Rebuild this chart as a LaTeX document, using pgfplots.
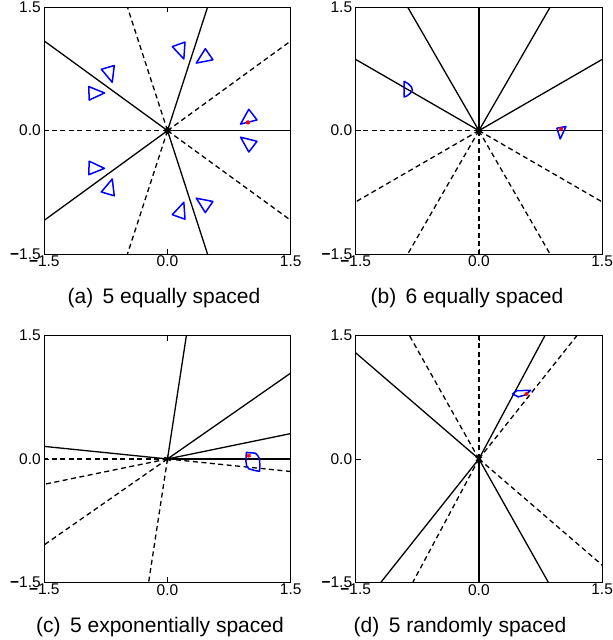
\documentclass[border=0pt]{standalone}
\usepackage{fontspec}
\setmainfont{Liberation Sans}
\usepackage{pgfplots}
\pgfplotsset{compat=1.18}
\newcommand{\mn}{{\bfseries −}}
\pgfplotsset{
  panel/.style={
    anchor=south west, scale only axis, width=246.4pt, height=246.7pt,
    xmin=-1.5, xmax=1.5, ymin=-1.5, ymax=1.5,
    xtick={-1.5,0,1.5}, ytick={-1.5,0,1.5},
    xticklabels={\mn1.5,0.0,1.5}, yticklabels={\mn1.5,0.0,1.5},
    tick align=inside, major tick length=5pt,
    every tick/.style={black, line width=0.8pt},
    axis line style={line width=0.9pt},
    tick label style={font=\fontsize{15.5}{17}\selectfont},
    xticklabel style={yshift=1.5pt},
    clip=true,
  },
  ray/.style={black, line width=1.3pt, no markers},
  dray/.style={black, line width=1.3pt, no markers, dash pattern=on 5pt off 3.5pt},
  shp/.style={blue, line width=1.5pt, line join=round, line cap=round, no markers},
  org/.style={only marks, mark=asterisk, mark size=3.5pt, black, mark options={line width=1.3pt}},
  tgt/.style={only marks, mark=asterisk, mark size=2.2pt, red, mark options={line width=1.1pt}},
}
\begin{document}
\begin{tikzpicture}
\useasboundingbox (0pt,0pt) rectangle (613pt,640pt);
% (a)
\begin{axis}[panel, at={(44.3pt,386pt)}]
\addplot[ray] coordinates {(0,0) (2.5,0)};
\addplot[ray] coordinates {(0,0) (0.7725,2.3776)};
\addplot[ray] coordinates {(0,0) (-2.0225,1.4695)};
\addplot[ray] coordinates {(0,0) (-2.0225,-1.4695)};
\addplot[ray] coordinates {(0,0) (0.7725,-2.3776)};
\addplot[dray] coordinates {(0,0) (2.0225,1.4695)};
\addplot[dray] coordinates {(0,0) (-0.7725,2.3776)};
\addplot[dray] coordinates {(0,0) (-2.5,0)};
\addplot[dray] coordinates {(0,0) (-0.7725,-2.3776)};
\addplot[dray] coordinates {(0,0) (2.0225,-1.4695)};
% triangles
\addplot[shp] coordinates {(0.99,0.26) (0.89,0.08) (1.09,0.13) (0.99,0.26)};
\addplot[shp] coordinates {(0.99,-0.26) (0.89,-0.08) (1.09,-0.13) (0.99,-0.26)};
\addplot[shp] coordinates {(0.0586,1.0219) (0.1989,0.8712) (0.2132,1.0769) (0.0586,1.0219)};
\addplot[shp] coordinates {(0.5532,0.8613) (0.3511,0.8218) (0.4604,0.9965) (0.5532,0.8613)};
\addplot[shp] coordinates {(-0.9537,0.3716) (-0.7670,0.4584) (-0.9582,0.5355) (-0.9537,0.3716)};
\addplot[shp] coordinates {(-0.6481,0.7922) (-0.6730,0.5878) (-0.8054,0.7459) (-0.6481,0.7922)};
\addplot[shp] coordinates {(-0.6481,-0.7922) (-0.6730,-0.5878) (-0.8054,-0.7459) (-0.6481,-0.7922)};
\addplot[shp] coordinates {(-0.9537,-0.3716) (-0.7670,-0.4584) (-0.9582,-0.5355) (-0.9537,-0.3716)};
\addplot[shp] coordinates {(0.5532,-0.8613) (0.3511,-0.8218) (0.4604,-0.9965) (0.5532,-0.8613)};
\addplot[shp] coordinates {(0.0586,-1.0219) (0.1989,-0.8712) (0.2132,-1.0769) (0.0586,-1.0219)};
\addplot[tgt] coordinates {(0.98,0.10)};
\addplot[org] coordinates {(0,0)};
\end{axis}
% (b)
\begin{axis}[panel, at={(355.7pt,386pt)}]
\addplot[ray] coordinates {(0,0) (2.5,0)};
\addplot[ray] coordinates {(0,0) (2.1651,1.25)};
\addplot[ray] coordinates {(0,0) (1.25,2.1651)};
\addplot[ray] coordinates {(0,0) (0,2.5)};
\addplot[ray] coordinates {(0,0) (-1.25,2.1651)};
\addplot[ray] coordinates {(0,0) (-2.1651,1.25)};
\addplot[dray] coordinates {(0,0) (-2.5,0)};
\addplot[dray] coordinates {(0,0) (-2.1651,-1.25)};
\addplot[dray] coordinates {(0,0) (-1.25,-2.1651)};
\addplot[dray] coordinates {(0,0) (0,-2.5)};
\addplot[dray] coordinates {(0,0) (1.25,-2.1651)};
\addplot[dray] coordinates {(0,0) (2.1651,-1.25)};
\addplot[shp] coordinates {(-0.91,0.60) (-0.86,0.57) (-0.82,0.53) (-0.81,0.49) (-0.84,0.45) (-0.88,0.42) (-0.91,0.41) (-0.91,0.60)};
\addplot[shp] coordinates {(0.95,0.03) (1.06,0.05) (0.99,-0.10) (0.95,0.03)};
\addplot[tgt] coordinates {(1.0,0.02)};
\addplot[org] coordinates {(0,0)};
\end{axis}
% (c)
\begin{axis}[panel, at={(44.3pt,57.7pt)}]
\addplot[ray] coordinates {(0,0) (2.5,0)};
\addplot[ray] coordinates {(0,0) (2.4488,0.5032)};
\addplot[ray] coordinates {(0,0) (2.0519,1.4282)};
\addplot[ray] coordinates {(0,0) (0.3786,2.4712)};
\addplot[ray] coordinates {(0,0) (-2.4872,0.2529)};
\addplot[dray] coordinates {(0,0) (-2.5,0)};
\addplot[dray] coordinates {(0,0) (-2.4488,-0.5032)};
\addplot[dray] coordinates {(0,0) (-2.0519,-1.4282)};
\addplot[dray] coordinates {(0,0) (-0.3786,-2.4712)};
\addplot[dray] coordinates {(0,0) (2.4872,-0.2529)};
\addplot[shp] coordinates {(0.96,0.08) (1.07,0.07) (1.10,0.04) (1.12,0.0) (1.125,-0.08) (1.12,-0.15) (1.06,-0.14) (0.99,-0.12) (0.965,-0.09) (0.955,-0.03) (0.96,0.08)};
\addplot[tgt] coordinates {(0.99,0.04)};
\addplot[org] coordinates {(0,0)};
\end{axis}
% (d)
\begin{axis}[panel, at={(355.7pt,57.7pt)}]
\addplot[ray] coordinates {(0,0) (1.1815,2.2033)};
\addplot[ray] coordinates {(0,0) (-1.8953,1.6303)};
\addplot[ray] coordinates {(0,0) (-1.5563,-1.9565)};
\addplot[ray] coordinates {(0,0) (0,-2.5)};
\addplot[ray] coordinates {(0,0) (1.2273,-2.1780)};
\addplot[dray] coordinates {(0,0) (-1.1815,-2.2033)};
\addplot[dray] coordinates {(0,0) (1.8953,-1.6303)};
\addplot[dray] coordinates {(0,0) (1.5563,1.9565)};
\addplot[dray] coordinates {(0,0) (0,2.5)};
\addplot[dray] coordinates {(0,0) (-1.2273,2.1780)};
\addplot[shp] coordinates {(0.41,0.79) (0.46,0.83) (0.63,0.835) (0.57,0.78) (0.48,0.755) (0.41,0.79)};
\addplot[tgt] coordinates {(0.58,0.79)};
\addplot[org] coordinates {(0,0)};
\end{axis}
\begin{scope}[every node/.style={font=\fontsize{21}{24}\selectfont, anchor=base}]
\node at (164pt,336pt) {(a)\hspace{0.45em}5 equally spaced};
\node at (467pt,336pt) {(b)\hspace{0.45em}6 equally spaced};
\node at (160pt,7pt) {(c)\hspace{0.45em}5 exponentially spaced};
\node at (460pt,7pt) {(d)\hspace{0.45em}5 randomly spaced};
\end{scope}
\end{tikzpicture}
\end{document}
